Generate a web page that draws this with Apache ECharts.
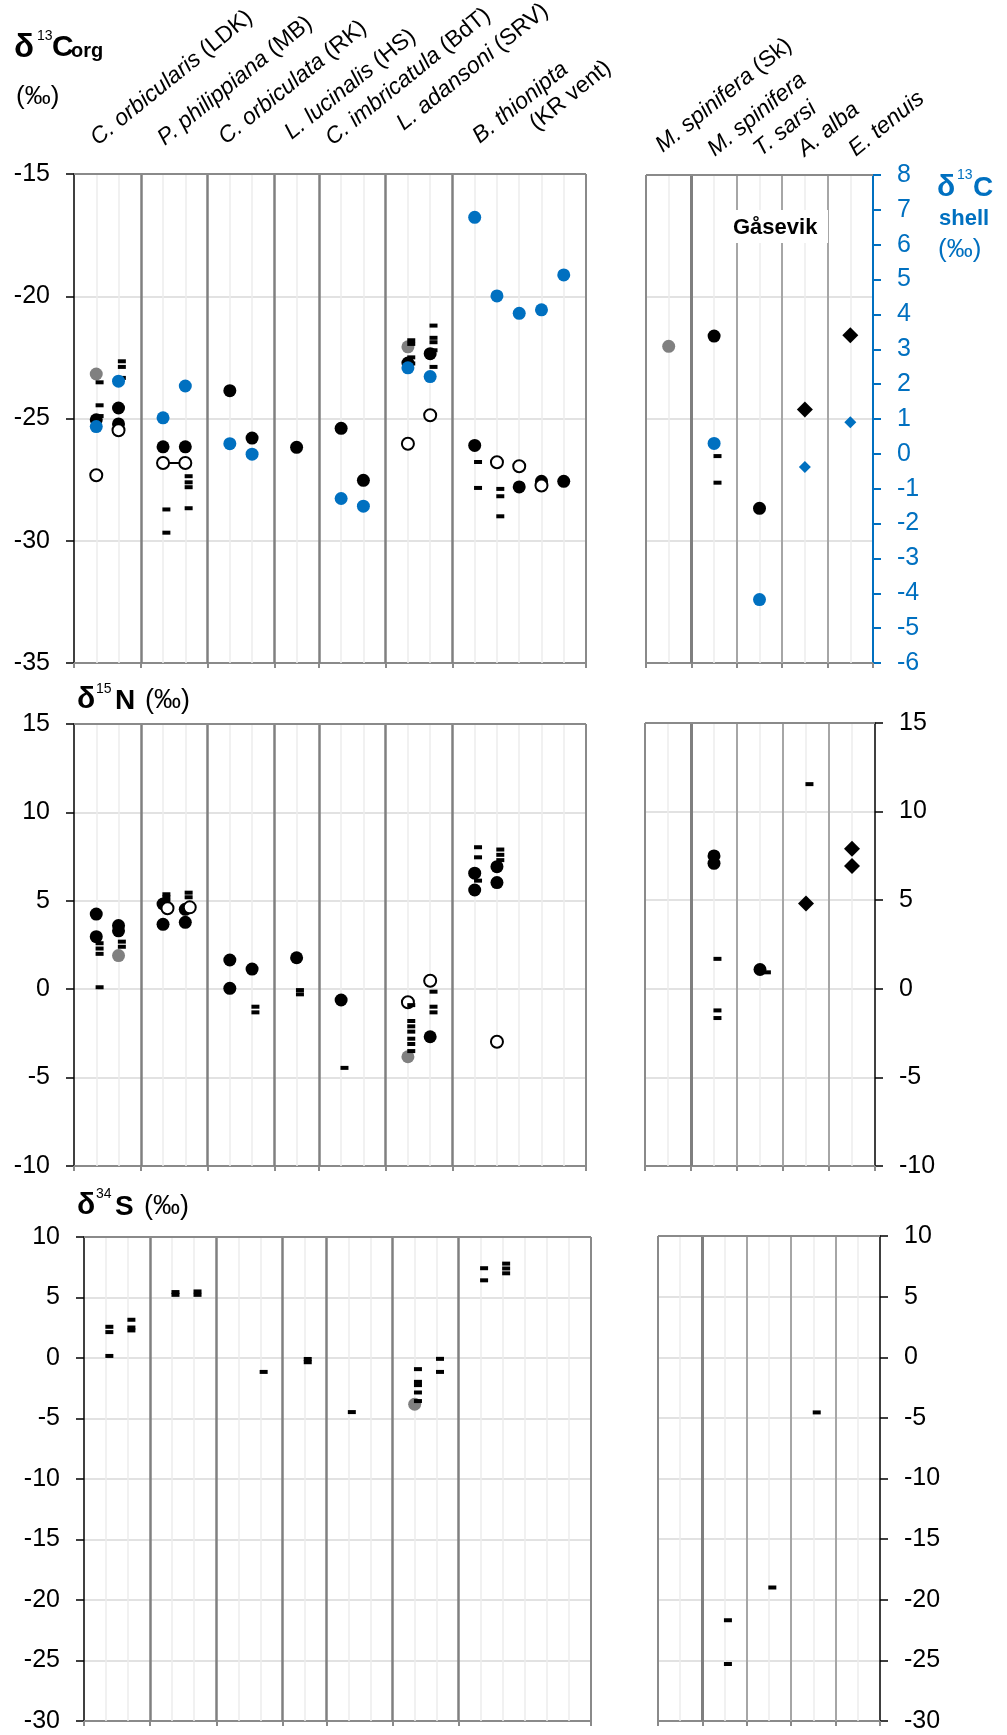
<!DOCTYPE html>
<html>
<head>
<meta charset="utf-8">
<script src="https://cdn.jsdelivr.net/npm/echarts@6/dist/echarts.min.js"></script>
<style>
  html, body { margin: 0; padding: 0; background: #fff; }
  #chart { width: 1007px; height: 1735px; }
</style>
</head>
<body>
<div id="chart"></div>
<script>
// ---- taxa (columns) ----
const westTaxa = [
  ['C. orbicularis', '(LDK)'],
  ['P. philippiana', '(MB)'],
  ['C. orbiculata', '(RK)'],
  ['L. lucinalis', '(HS)'],
  ['C. imbricatula', '(BdT)'],
  ['L. adansoni', '(SRV)'],
  ['B. thionipta', '(KR vent)']
];
const gasevikTaxa = [
  ['M. spinifera', '(Sk)'],
  ['M. spinifera', ''],
  ['T. sarsi', ''],
  ['A. alba', ''],
  ['E. tenuis', '']
];
// column boundaries on the slot axis
const westBounds = [3, 6, 9, 11, 14, 17];
const westSlots = 23;
const gasevikBounds = [2, 4, 6, 8];
const gasevikSlots = 10;

// ---- axis ticks ----
const cOrgTicks = { min: -35, max: -15, step: 5 };
const cShellTicks = { min: -6, max: 8, step: 1 };
const nTicks = { min: -10, max: 15, step: 5 };
const sTicks = { min: -30, max: 10, step: 5 };

// ---- δ13C org (‰) : [slot, value] ----
const cOrgFilled = [[1,-25.05],[2,-24.57],[2,-25.22],[4,-26.16],[5,-26.16],[7,-23.86],[8,-25.8],[10,-26.18],[12,-25.4],[13,-27.53],[15,-22.73],[16,-22.35],[18,-26.1],[20,-27.8],[21,-27.57],[22,-27.57]];
const cOrgOpen = [[1,-27.32],[2,-25.48],[15,-26.03],[16,-24.87],[19,-26.79],[20,-26.95],[21,-27.74]];
const cOrgOpenPaired = [[4,-26.82],[5,-26.82]];
const cOrgGray = [[1,-23.18],[15,-22.07]];
const cOrgDash = [[1,-23.52],[1,-24.46],[1,-24.9],[2,-22.66],[2,-22.89],[2,-23.34],[4,-28.72],[4,-29.67],[5,-27.36],[5,-27.61],[5,-27.81],[5,-28.67],[15,-21.8],[15,-21.95],[15,-22.5],[15,-22.75],[16,-21.2],[16,-21.7],[16,-21.88],[16,-22.21],[16,-22.89],[18,-26.78],[18,-27.84],[19,-27.88],[19,-28.18],[19,-29.0]];
// δ13C shell (‰)
const cShell = [[1,0.77],[2,2.07],[4,1.02],[5,1.93],[7,0.28],[8,-0.02],[12,-1.29],[13,-1.51],[15,2.45],[16,2.2],[18,6.76],[19,4.51],[20,4.01],[21,4.11],[22,5.11]];

// Gåsevik δ13C
const gCOrgGray = [[1,-22.02]];
const gCOrgFilled = [[3,-21.6],[5,-28.66]];
const gCOrgDash = [[3,-26.52],[3,-27.61]];
const gCOrgDiamond = [[7,-24.61],[9,-21.57]];
const gCShell = [[3,0.3],[5,-4.18]];
const gCShellDiamond = [[7,-0.38],[9,0.91]];

// ---- δ15N (‰) ----
const nFilled = [[1,4.25],[1,2.97],[2,3.6],[2,3.3],[4,4.82],[4,3.67],[5,4.52],[5,3.78],[7,1.65],[7,0.05],[8,1.14],[10,1.78],[12,-0.61],[16,-2.69],[18,6.56],[18,5.61],[19,6.93],[19,6.03]];
const nOpen = [[4.2,4.58],[5.2,4.63],[15,-0.74],[16,0.48],[19,-2.97]];
const nGray = [[2,1.9],[15,-3.82]];
const nDash = [[1,2.6],[1,2.3],[1,2.0],[1,0.11],[2,2.69],[2,2.4],[4,5.37],[4,5.2],[4,5.0],[5,5.46],[5,5.2],[8,-0.99],[8,-1.31],[10,-0.05],[10,-0.29],[12,-4.45],[15,-0.9],[15,-1.8],[15,-2.1],[15,-2.4],[15,-2.8],[15,-3.1],[15,-3.5],[16,-0.14],[16,-0.99],[16,-1.31],[18,8.03],[18,7.46],[18,6.14],[19,7.9],[19,7.6],[19,7.3]];
const gNFilled = [[3,7.5],[3,7.08],[5,1.09]];
const gNDash = [[3,1.69],[3,-1.22],[3,-1.65],[5.15,0.93],[7,11.55]];
const gNDiamond = [[7,4.82],[9,7.91],[9,6.93]];

// ---- δ34S (‰) ----
const sDash = [[1,2.58],[1,2.14],[1,0.17],[2,3.16],[2,2.52],[2,2.28],[4,5.45],[4,5.22],[5,5.5],[5,5.22],[8,-1.15],[10,-0.08],[10,-0.35],[12,-4.47],[15,-0.92],[15,-1.97],[15,-2.24],[15,-2.85],[15,-3.56],[16,-0.07],[16,-1.15],[18,7.42],[18,6.42],[19,7.8],[19,7.4],[19,7.0]];
const sGray = [[15,-3.82]];
const gSDash = [[3,-21.69],[3,-25.3],[5,-18.99],[7,-4.55]];

// ---- styling ----
const FONT = '"Liberation Sans", Arial, Helvetica, sans-serif';
const BLUE = '#0070c0';
const DASH_SHIFT = 0.15;   // dash markers sit just right of their column
const shift = (pts, dx) => pts.map(p => [p[0] + dx, p[1]]);

const MARK = {
  filled:  { symbol: 'circle', symbolSize: 13, itemStyle: { color: '#000', opacity: 1 }, z: 3 },
  open:    { symbol: 'circle', symbolSize: 12, itemStyle: { color: '#fff', borderColor: '#000', borderWidth: 2, opacity: 1 }, z: 4 },
  gray:    { symbol: 'circle', symbolSize: 13, itemStyle: { color: '#808080', opacity: 1 }, z: 5 },
  dash:    { symbol: 'rect', symbolSize: [8, 4], itemStyle: { color: '#000', opacity: 1 }, z: 6 },
  blue:    { symbol: 'circle', symbolSize: 13, itemStyle: { color: BLUE, opacity: 1 }, z: 7 },
  diamond: { symbol: 'diamond', symbolSize: 16, itemStyle: { color: '#000', opacity: 1 }, z: 7 },
  blueDiamond: { symbol: 'diamond', symbolSize: 12, itemStyle: { color: BLUE, opacity: 1 }, z: 7 }
};

const series = [];
function scatter(xi, yi, data, kind) {
  const m = MARK[kind];
  series.push(Object.assign({
    type: 'scatter', xAxisIndex: xi, yAxisIndex: yi, data: data,
    silent: true, animation: false
  }, JSON.parse(JSON.stringify(m))));
}

// frame of one panel: light slot lines, column separators, borders
function frame(xi, yi, slots, bounds, top, west) {
  const items = [];
  for (let s = 1; s < slots; s++) {
    if (bounds.indexOf(s) < 0) items.push({ xAxis: s, lineStyle: { color: '#ededed', width: 1.5, type: 'solid' } });
  }
  if (west) {
    bounds.forEach(b => items.push({ xAxis: b, lineStyle: { color: '#808080', width: 2.5, type: 'solid' } }));
    items.push({ xAxis: slots, lineStyle: { color: '#8a8a8a', width: 2, type: 'solid' } });
  } else {
    items.push({ xAxis: 0, lineStyle: { color: '#8a8a8a', width: 2, type: 'solid' } });
    bounds.forEach((b, i) => items.push({ xAxis: b, lineStyle: { color: i === 0 ? '#7f7f7f' : '#a6a6a6', width: i === 0 ? 3 : 2, type: 'solid' } }));
  }
  items.push({ yAxis: top, lineStyle: { color: '#8a8a8a', width: 2, type: 'solid' } });
  series.push({
    type: 'scatter', xAxisIndex: xi, yAxisIndex: yi, data: [], silent: true, animation: false,
    markLine: { silent: true, animation: false, symbol: ['none', 'none'], label: { show: false },
      emphasis: { disabled: true }, data: items, z: 1 }
  });
}

function xAxis(gridIndex, slots, bounds) {
  return {
    type: 'value', gridIndex, min: 0, max: slots, interval: 1,
    axisLine: { show: true, onZero: false, lineStyle: { color: '#8a8a8a', width: 2 } },
    axisTick: { show: true, customValues: bounds, length: 5, lineStyle: { color: '#8a8a8a', width: 2 } },
    axisLabel: { show: false },
    splitLine: { show: false }
  };
}
function yAxis(gridIndex, t, position, color, grid) {
  return {
    type: 'value', gridIndex, position, min: t.min, max: t.max, interval: t.step,
    axisLine: { show: true, onZero: false, lineStyle: { color, width: color === BLUE ? 2 : 1.5 } },
    axisTick: { show: true, inside: false, length: 8, lineStyle: { color, width: color === BLUE ? 2 : 1.5 } },
    axisLabel: { show: true, margin: 24, color, fontSize: 25, fontFamily: FONT },
    splitLine: { show: grid, lineStyle: { color: '#d9d9d9', width: 1.5 } }
  };
}
function hiddenY(gridIndex, t, position, grid) {
  return {
    type: 'value', gridIndex, position, min: t.min, max: t.max, interval: t.step,
    axisLine: { show: false, onZero: false }, axisTick: { show: false }, axisLabel: { show: false },
    splitLine: { show: grid, lineStyle: { color: '#d9d9d9', width: 1.5 } }
  };
}

const westSeps = [0].concat(westBounds, [westSlots]);
const gasSeps = [0].concat(gasevikBounds, [gasevikSlots]);

const xAxes = [
  xAxis(0, westSlots, westSeps), xAxis(1, gasevikSlots, gasSeps),
  xAxis(2, westSlots, westSeps), xAxis(3, gasevikSlots, gasSeps),
  xAxis(4, westSlots, westSeps), xAxis(5, gasevikSlots, gasSeps)
];
const yAxes = [
  yAxis(0, cOrgTicks, 'left', '#000', true),        // 0
  hiddenY(0, cShellTicks, 'right', false),          // 1
  hiddenY(1, cOrgTicks, 'left', true),              // 2
  yAxis(1, cShellTicks, 'right', BLUE, false),      // 3
  yAxis(2, nTicks, 'left', '#000', true),           // 4
  yAxis(3, nTicks, 'right', '#000', true),          // 5
  yAxis(4, sTicks, 'left', '#000', true),           // 6
  yAxis(5, sTicks, 'right', '#000', true)           // 7
];

// frames
frame(0, 0, westSlots, westBounds, cOrgTicks.max, true);
frame(1, 2, gasevikSlots, gasevikBounds, cOrgTicks.max, false);
frame(2, 4, westSlots, westBounds, nTicks.max, true);
frame(3, 5, gasevikSlots, gasevikBounds, nTicks.max, false);
frame(4, 6, westSlots, westBounds, sTicks.max, true);
frame(5, 7, gasevikSlots, gasevikBounds, sTicks.max, false);

// δ13C panel
scatter(0, 0, cOrgFilled, 'filled');
series.push({
  type: 'line', xAxisIndex: 0, yAxisIndex: 0, data: cOrgOpenPaired, silent: true, animation: false,
  lineStyle: { color: '#000', width: 2 }, symbol: 'circle', symbolSize: 12, showSymbol: true,
  itemStyle: { color: '#fff', borderColor: '#000', borderWidth: 2, opacity: 1 }, z: 4
});
scatter(0, 0, cOrgOpen, 'open');
scatter(0, 0, cOrgGray, 'gray');
scatter(0, 0, shift(cOrgDash, DASH_SHIFT), 'dash');
scatter(0, 1, cShell, 'blue');
scatter(1, 2, gCOrgGray, 'gray');
scatter(1, 2, gCOrgFilled, 'filled');
scatter(1, 2, shift(gCOrgDash, DASH_SHIFT), 'dash');
scatter(1, 2, gCOrgDiamond, 'diamond');
scatter(1, 3, gCShell, 'blue');
scatter(1, 3, gCShellDiamond, 'blueDiamond');

// δ15N panel
scatter(2, 4, nFilled, 'filled');
scatter(2, 4, nOpen, 'open');
scatter(2, 4, nGray, 'gray');
scatter(2, 4, shift(nDash, DASH_SHIFT), 'dash');
scatter(3, 5, gNFilled, 'filled');
scatter(3, 5, shift(gNDash, DASH_SHIFT), 'dash');
scatter(3, 5, gNDiamond, 'diamond');

// δ34S panel
scatter(4, 6, sGray, 'gray');
scatter(4, 6, shift(sDash, DASH_SHIFT), 'dash');
scatter(5, 7, shift(gSDash, DASH_SHIFT), 'dash');

// ---- text ----
const ROT = 39 * Math.PI / 180;
const LABEL_SIZE = 23;
const westAnchors = [[101,150],[168,150],[229,149],[295,144],[336,150],[407,135],[483,148]];
const westSecondLine = [540, 135];
const gasAnchors = [[666,157],[718,161],[764,161],[808,161],[859,161]];

function taxonLabel(sp, site, x, y) {
  const txt = '{i|' + sp + '}' + (site ? ' {n|' + site + '}' : '');
  return {
    type: 'text', x, y, rotation: ROT, z: 20, silent: true,
    style: {
      text: txt, fontSize: LABEL_SIZE, fontFamily: FONT, fill: '#000', align: 'left', verticalAlign: 'bottom',
      rich: {
        i: { fontStyle: 'italic', fontSize: LABEL_SIZE, fontFamily: FONT, fill: '#000' },
        n: { fontSize: LABEL_SIZE, fontFamily: FONT, fill: '#000' }
      }
    }
  };
}
function plain(text, x, y, size, bold, color) {
  return {
    type: 'text', x, y, z: 20, silent: true,
    style: { text, fontSize: size, fontWeight: bold ? 'bold' : 'normal',
      fontFamily: FONT, fill: color || '#000', align: 'left', verticalAlign: 'middle' }
  };
}

const graphics = [];
westTaxa.forEach((t, i) => {
  if (i === westTaxa.length - 1) {
    graphics.push(taxonLabel(t[0], '', westAnchors[i][0], westAnchors[i][1]));
    graphics.push({
      type: 'text', x: westSecondLine[0], y: westSecondLine[1], rotation: ROT, z: 20, silent: true,
      style: { text: t[1], fontSize: LABEL_SIZE, fontFamily: FONT, fill: '#000', align: 'left', verticalAlign: 'bottom' }
    });
  } else {
    graphics.push(taxonLabel(t[0], t[1], westAnchors[i][0], westAnchors[i][1]));
  }
});
gasevikTaxa.forEach((t, i) => graphics.push(taxonLabel(t[0], t[1], gasAnchors[i][0], gasAnchors[i][1])));

// panel titles
graphics.push(plain('δ', 14, 48, 33, true));
graphics.push(plain('13', 37, 36, 14, false));
graphics.push(plain('C', 52, 48, 30, true));
graphics.push(plain('org', 71, 51, 20, true));
graphics.push(plain('(‰)', 16, 97, 26, false));

graphics.push(plain('δ', 77, 700, 30, true));
graphics.push(plain('15', 96, 689, 14, false));
graphics.push(plain('N', 115, 701, 28, true));
graphics.push(plain('(‰)', 145, 701, 27, false));

graphics.push(plain('δ', 77, 1206, 30, true));
graphics.push(plain('34', 96, 1194, 14, false));
graphics.push(plain('S', 115, 1207, 28, true));
graphics.push(plain('(‰)', 144, 1207, 27, false));

graphics.push(plain('δ', 937, 188, 30, true, BLUE));
graphics.push(plain('13', 957, 175, 14, false, BLUE));
graphics.push(plain('C', 973, 188, 28, true, BLUE));
graphics.push(plain('shell', 939, 219, 22, true, BLUE));
graphics.push(plain('(‰)', 938, 250, 26, false, BLUE));

// site box
graphics.push({ type: 'rect', z: 15, silent: true, shape: { x: 730, y: 210, width: 98, height: 33 }, style: { fill: '#fff' } });
graphics.push(plain('Gåsevik', 733, 228, 22, true));

const option = {
  animation: false,
  backgroundColor: '#fff',
  grid: [
    { left: 74, top: 174, width: 512, height: 489, outerBoundsMode: 'none' },
    { left: 646, top: 175, width: 227, height: 488, outerBoundsMode: 'none' },
    { left: 74, top: 724, width: 512, height: 442, outerBoundsMode: 'none' },
    { left: 645, top: 723, width: 230, height: 443, outerBoundsMode: 'none' },
    { left: 84, top: 1237, width: 507, height: 484, outerBoundsMode: 'none' },
    { left: 658, top: 1236, width: 222, height: 485, outerBoundsMode: 'none' }
  ],
  xAxis: xAxes,
  yAxis: yAxes,
  series: series,
  graphic: graphics
};

const chart = echarts.init(document.getElementById('chart'), null, { renderer: 'canvas' });
chart.setOption(option);
</script>
</body>
</html>
